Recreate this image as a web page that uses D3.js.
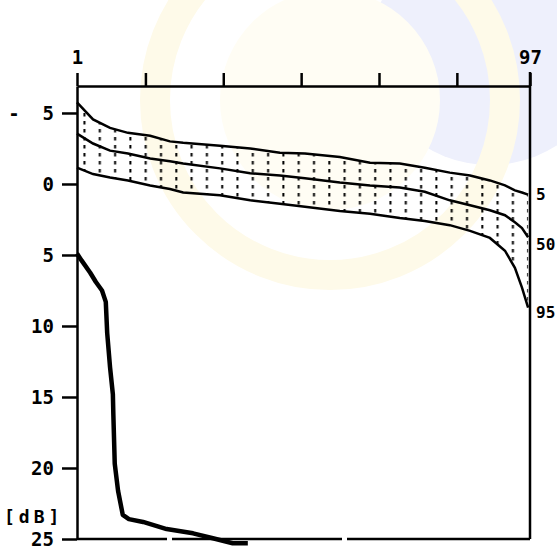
<!DOCTYPE html>
<html>
<head>
<meta charset="utf-8">
<script src="https://cdn.jsdelivr.net/npm/d3@7/dist/d3.min.js"></script>
<style>
  body { margin: 0; background: #fff; }
  text { font-family: "DejaVu Sans Mono", monospace; fill: #000; font-weight: bold; }
</style>
</head>
<body>
<div id="chart"></div>
<script>
// x positions (percent of range, 1..97) where the percentile curves were read
var pctX   = [1, 4.4, 8, 11.8, 16.5, 20.7, 23.5, 31.3, 37.7, 44, 49.3, 56.7, 63.1, 69.4, 74.7, 80, 84.3, 88.5, 91.7, 93.8, 95.3, 96.6];
// upper curve (label 5)
var p5     = [-5.75, -4.55, -3.95, -3.6, -3.4, -3.0, -2.9, -2.7, -2.5, -2.2, -2.15, -1.9, -1.5, -1.45, -1.15, -0.8, -0.6, -0.25, 0.1, 0.45, 0.6, 0.75];
// middle curve (label 50)
var p50    = [-3.55, -2.85, -2.35, -2.15, -1.8, -1.6, -1.45, -1.1, -0.75, -0.6, -0.4, -0.1, 0.1, 0.25, 0.55, 1.15, 1.5, 1.85, 2.2, 2.7, 3.1, 3.75];
// lower curve (label 95)
var p95    = [-1.15, -0.7, -0.45, -0.25, 0.1, 0.35, 0.6, 0.8, 1.15, 1.4, 1.6, 1.9, 2.1, 2.4, 2.6, 2.9, 3.3, 3.8, 4.7, 5.9, 7.3, 8.7];

// measured curve (bold)
var measX  = [1, 2, 3.8, 5, 6.3, 6.8, 7.1, 7.4, 8, 8.6, 8.7, 9, 9.7, 10.7, 12, 15, 20, 25.6, 29.8, 34, 37.2];
var measY  = [4.9, 5.4, 6.25, 6.9, 7.5, 8.0, 8.3, 10.5, 12.9, 14.8, 16.2, 19.7, 21.6, 23.3, 23.6, 23.8, 24.3, 24.6, 24.95, 25.3, 25.3];

var xTicks      = [1, 15.5, 32, 48.5, 65, 81.5, 97];
var xTickLabels = ["1", "", "", "", "", "", "97"];
var yTicks      = [-5, 0, 5, 10, 15, 20, 25];
var yTickLabels = ["-  5", "0", "5", "10", "15", "20", "25"];
var curveLabels = ["5", "50", "95"];

function init() {
    var w = 557, h = 550;

    var x = d3.scaleLinear().domain([1, 97]).range([77, 530]);
    var y = d3.scaleLinear().domain([-6.9, 25]).range([86, 539]);

    var svg = d3.select("#chart").append("svg")
        .attr("width", w)
        .attr("height", h);

    // faint watermark behind the chart
    var wm = svg.append("g");
    wm.append("ellipse").attr("cx", 490).attr("cy", 50).attr("rx", 120).attr("ry", 115)
        .attr("fill", "#eef0fc");
    wm.append("circle").attr("cx", 330).attr("cy", 100).attr("r", 175)
        .attr("fill", "none").attr("stroke", "#fefae9").attr("stroke-width", 30);
    wm.append("circle").attr("cx", 330).attr("cy", 100).attr("r", 110)
        .attr("fill", "#fffdf4");

    // dotted hatch pattern
    var defs = svg.append("defs");
    var pat = defs.append("pattern")
        .attr("id", "hatch")
        .attr("patternUnits", "userSpaceOnUse")
        .attr("width", 15.3).attr("height", 8);
    pat.append("rect").attr("x", 7).attr("y", 1).attr("width", 2).attr("height", 3.5).attr("fill", "#000");

    var band = pctX.map(function(d, i){ return {x: d, lo: p5[i], mid: p50[i], hi: p95[i]}; });

    var area = d3.area()
        .x(function(d){ return x(d.x); })
        .y0(function(d){ return y(d.lo); })
        .y1(function(d){ return y(d.hi); });

    svg.append("path")
        .datum(band)
        .attr("fill", "url(#hatch)")
        .attr("d", area);

    var line = d3.line()
        .x(function(d){ return x(d[0]); })
        .y(function(d){ return y(d[1]); });

    [p5, p50, p95].forEach(function(s){
        svg.append("path")
            .datum(pctX.map(function(d, i){ return [d, s[i]]; }))
            .attr("fill", "none")
            .attr("stroke", "#000")
            .attr("stroke-width", 2.5)
            .attr("d", line);
    });

    // curve labels at right edge
    svg.selectAll("text.clab")
        .data(curveLabels)
        .enter().append("text")
        .attr("class", "clab")
        .attr("x", 536)
        .attr("y", function(d, i){ return [200, 250, 318][i]; })
        .attr("font-size", 16)
        .text(function(d){ return d; });

    // measured curve
    svg.append("path")
        .datum(measX.map(function(d, i){ return [d, measY[i]]; }))
        .attr("fill", "none")
        .attr("stroke", "#000")
        .attr("stroke-width", 4.5)
        .attr("stroke-linejoin", "round")
        .attr("d", line);

    // axes
    var xAxis = d3.axisTop(x)
        .tickValues(xTicks)
        .tickSize(13)
        .tickSizeOuter(0)
        .tickPadding(9)
        .tickFormat(function(d, i){ return xTickLabels[i]; });

    var gx = svg.append("g")
        .attr("transform", "translate(0," + y.range()[0] + ")")
        .call(xAxis);

    var yAxis = d3.axisLeft(y)
        .tickValues(yTicks)
        .tickSize(15)
        .tickSizeOuter(0)
        .tickPadding(8)
        .tickFormat(function(d, i){ return yTickLabels[i]; });

    var gy = svg.append("g")
        .attr("transform", "translate(" + x.range()[0] + ",0)")
        .call(yAxis);

    [gx, gy].forEach(function(g){
        g.selectAll("path, line").attr("stroke", "#000").attr("stroke-width", 2.5);
        g.selectAll("text")
            .attr("font-family", "DejaVu Sans Mono, monospace")
            .attr("font-weight", "bold")
            .attr("font-size", 19)
            .style("white-space", "pre");
    });

    // right and bottom frame lines
    svg.append("line")
        .attr("x1", x(97)).attr("x2", x(97))
        .attr("y1", y.range()[0] - 14).attr("y2", y.range()[1])
        .attr("stroke", "#000").attr("stroke-width", 2.5);
    svg.append("line")
        .attr("x1", x(1)).attr("x2", x(97))
        .attr("y1", y.range()[1]).attr("y2", y.range()[1])
        .attr("stroke", "#000").attr("stroke-width", 2.5)
        .attr("stroke-dasharray", "90,5,170,5,200,6");

    // unit label
    svg.append("text")
        .attr("x", 4)
        .attr("y", 523)
        .attr("font-size", 18)
        .attr("letter-spacing", 4)
        .text("[dB]");
}

window.onload = init;
</script>
</body>
</html>
